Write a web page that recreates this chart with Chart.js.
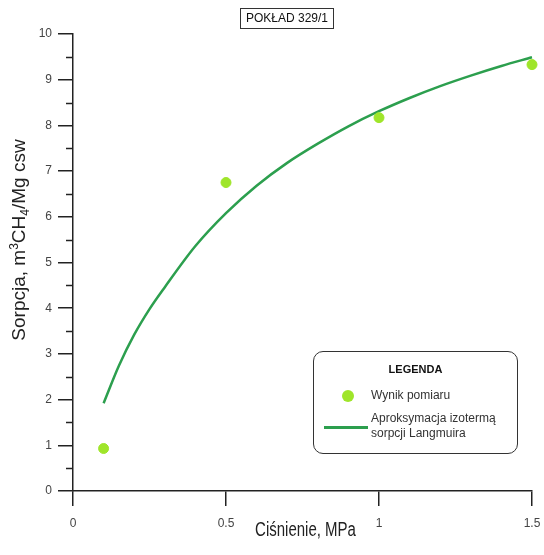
<!DOCTYPE html>
<html>
<head>
<meta charset="utf-8">
<script src="https://cdn.jsdelivr.net/npm/chart.js@4"></script>
<style>
  body { margin: 0; background: #fff; font-family: "Liberation Sans", Arial, sans-serif; }
  #wrap { position: relative; width: 544px; height: 555px; }
  #title {
    position: absolute; left: 240px; top: 8px; width: 92px; height: 19px;
    border: 1.5px solid #333; font-size: 12px; line-height: 19px; text-align: center; color: #111;
  }
  #legend {
    position: absolute; left: 313px; top: 351px; width: 203px; height: 101px;
    border: 1.5px solid #333; border-radius: 10px; background: #fff; font-size: 12px; color: #333;
  }
  #legend .head { position: absolute; left: 0; right: 0; top: 11px; text-align: center; font-weight: bold; font-size: 11px; color: #111; }
  #legend .row { position: absolute; left: 0; right: 0; }
  #legend .sym { position: absolute; }
  #legend .txt { position: absolute; left: 57px; line-height: 15px; }
</style>
</head>
<body>
<div id="wrap">
  <canvas id="chart" width="544" height="555"></canvas>
  <div id="title">POKŁAD 329/1</div>
  <div id="legend"></div>
</div>
<script>
// pomiary
var pressure = [0.1, 0.5, 1.0, 1.5];
var sorption = [0.93, 6.75, 8.17, 9.33];

// izoterma Langmuira (odczyt z wykresu)
var fitPressure = [0.1, 0.15, 0.2, 0.25, 0.3, 0.4, 0.5, 0.6, 0.7, 0.8, 0.9, 1.0, 1.1, 1.2, 1.3, 1.4, 1.5];
var fitSorption = [1.92, 2.74, 3.42, 3.98, 4.46, 5.36, 6.08, 6.68, 7.18, 7.60, 7.98, 8.31, 8.60, 8.86, 9.09, 9.30, 9.49];

var xTicks = [0, 0.5, 1, 1.5];
var yTicks = [0, 1, 2, 3, 4, 5, 6, 7, 8, 9, 10];

var xTitle = 'Ciśnienie, MPa';
// tytuł osi Y: [tekst, 'n' normalny | 'sup' indeks górny | 'sub' indeks dolny]
var yTitle = [['Sorpcja, m', 'n'], ['3', 'sup'], ['CH', 'n'], ['4', 'sub'], ['/Mg csw', 'n']];

var pointColor = '#9fe52a';
var lineColor = '#2c9f4e';
var axisColor = '#222';

function toXY(xs, ys) {
    return xs.map(function (x, i) { return { x: x, y: ys[i] }; });
}

var minorTicks = {
    id: 'minorTicks',
    afterDraw: function (chart) {
        var ctx = chart.ctx;
        var y = chart.scales.y;
        var left = chart.chartArea.left;
        ctx.save();
        ctx.strokeStyle = axisColor;
        ctx.lineWidth = 1.5;
        for (var v = 0.5; v < 10; v += 1) {
            var py = Math.round(y.getPixelForValue(v)) + 0.5;
            ctx.beginPath();
            ctx.moveTo(left - 7, py);
            ctx.lineTo(left, py);
            ctx.stroke();
        }
        ctx.restore();
    }
};

// tytuły osi (Y z indeksami, X w wąskim kroju)
var axisTitles = {
    id: 'axisTitles',
    afterDraw: function (chart) {
        var ctx = chart.ctx;
        var area = chart.chartArea;
        ctx.save();
        ctx.fillStyle = '#222';
        ctx.textBaseline = 'alphabetic';

        // X
        ctx.font = '20px "Liberation Sans", Arial, sans-serif';
        var cx = (area.left + area.right) / 2 + 3;
        var w = ctx.measureText(xTitle).width;
        ctx.save();
        ctx.translate(cx, 536);
        ctx.scale(0.75, 1);
        ctx.fillText(xTitle, -w / 2, 0);
        ctx.restore();

        // Y
        var big = '19px "Liberation Sans", Arial, sans-serif';
        var small = '12px "Liberation Sans", Arial, sans-serif';
        var total = 0;
        yTitle.forEach(function (p) {
            ctx.font = p[1] === 'n' ? big : small;
            total += ctx.measureText(p[0]).width;
        });
        ctx.translate(25, 240);
        ctx.rotate(-Math.PI / 2);
        var x = -total / 2;
        yTitle.forEach(function (p) {
            ctx.font = p[1] === 'n' ? big : small;
            var dy = p[1] === 'sup' ? -7 : (p[1] === 'sub' ? 4 : 0);
            ctx.fillText(p[0], x, dy);
            x += ctx.measureText(p[0]).width;
        });
        ctx.restore();
    }
};

var font = { family: '"Liberation Sans", Arial, sans-serif', size: 12 };

var chart = new Chart(document.getElementById('chart'), {
    type: 'scatter',
    data: {
        datasets: [{
            label: 'Aproksymacja izotermą sorpcji Langmuira',
            data: toXY(fitPressure, fitSorption),
            showLine: true,
            borderColor: lineColor,
            borderWidth: 2.5,
            pointRadius: 0,
            cubicInterpolationMode: 'monotone',
            clip: false,
            order: 2
        }, {
            label: 'Wynik pomiaru',
            data: toXY(pressure, sorption),
            backgroundColor: pointColor,
            borderColor: pointColor,
            pointRadius: 5,
            clip: false,
            order: 1
        }]
    },
    options: {
        responsive: false,
        animation: false,
        layout: { padding: { left: 0, top: 34, right: 12, bottom: 0 } },
        plugins: { legend: { display: false }, tooltip: { enabled: false } },
        scales: {
            x: {
                type: 'linear', min: 0, max: 1.5,
                afterBuildTicks: function (s) { s.ticks = xTicks.map(function (v) { return { value: v }; }); },
                afterFit: function (s) { s.height = 64; s.paddingLeft = 0; s.paddingRight = 0; },
                ticks: { color: '#444', font: font, padding: 10, maxRotation: 0,
                    callback: function (v) { return String(v); } },
                grid: { drawOnChartArea: false, tickLength: 15, color: axisColor, lineWidth: 1.5 },
                border: { color: axisColor, width: 1.5 }
            },
            y: {
                type: 'linear', min: 0, max: 10,
                afterBuildTicks: function (s) { s.ticks = yTicks.map(function (v) { return { value: v }; }); },
                afterFit: function (s) { s.width = 73; },
                ticks: { color: '#444', font: font, padding: 6 },
                grid: { drawOnChartArea: false, tickLength: 15, color: axisColor, lineWidth: 1.5 },
                border: { color: axisColor, width: 1.5 }
            }
        }
    },
    plugins: [minorTicks, axisTitles]
});

// legenda HTML z danych wykresu
var lg = document.getElementById('legend');
var ds = chart.data.datasets;
var html = '<div class="head">LEGENDA</div>';
html += '<div class="row" style="top:36px">' +
    '<span class="sym" style="left:28px;top:2px;width:12px;height:12px;border-radius:50%;background:' + ds[1].backgroundColor + '"></span>' +
    '<span class="txt" style="top:0">' + ds[1].label + '</span></div>';
html += '<div class="row" style="top:59px">' +
    '<span class="sym" style="left:10px;top:15px;width:44px;height:2.5px;background:' + ds[0].borderColor + '"></span>' +
    '<span class="txt" style="top:0">Aproksymacja izotermą<br>sorpcji Langmuira</span></div>';
lg.innerHTML = html;
</script>
</body>
</html>
